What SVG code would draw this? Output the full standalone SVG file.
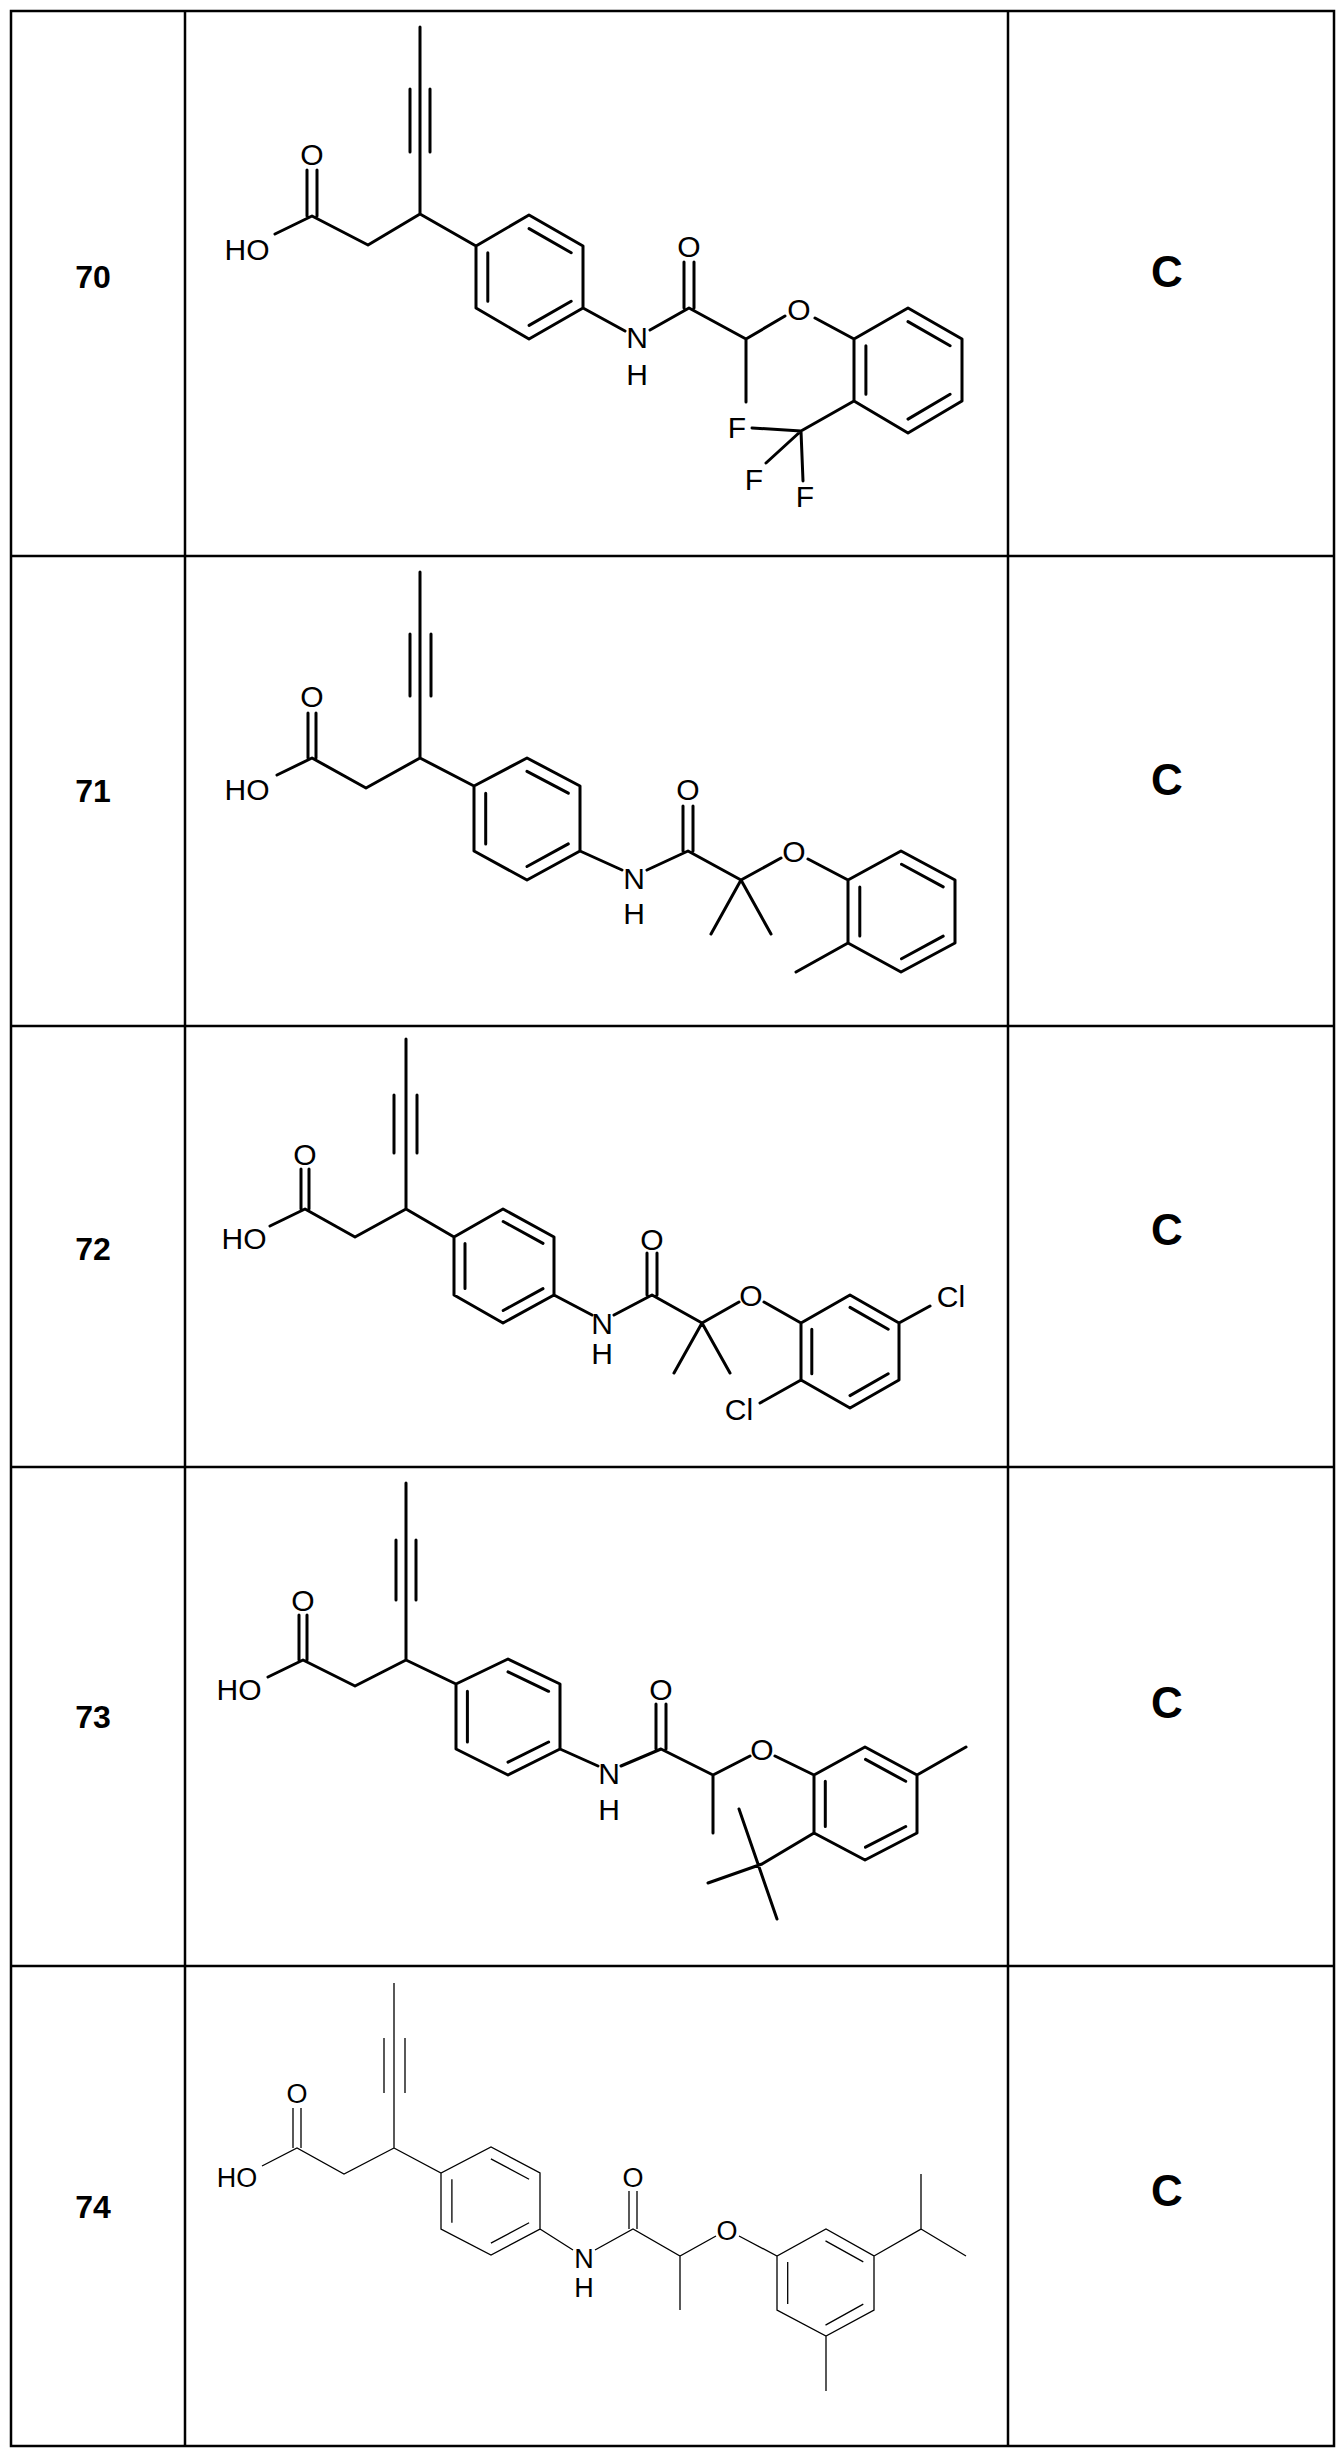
<svg xmlns="http://www.w3.org/2000/svg" width="1343" height="2454" viewBox="0 0 1343 2454">
<style>
.grid{stroke:#000;stroke-width:2.5;fill:none}
.b{stroke:#000;stroke-width:3;fill:none;stroke-linecap:round;stroke-linejoin:round}
.t{stroke:#000;stroke-width:1.3;fill:none}
.lbl{font-family:"Liberation Sans",Arial,sans-serif;font-weight:bold;text-anchor:middle}
.a{font-family:"Liberation Sans",Arial,sans-serif;font-size:30px;text-anchor:middle}
.a2{font-family:"Liberation Sans",Arial,sans-serif;font-size:27px;text-anchor:middle}
</style>
<rect width="1343" height="2454" fill="#fff"/>
<g id="table" class="grid">
<rect x="11" y="11" width="1323" height="2435"/>
<line x1="185" y1="11" x2="185" y2="2446"/>
<line x1="1008" y1="11" x2="1008" y2="2446"/>
<line x1="11" y1="556" x2="1334" y2="556"/>
<line x1="11" y1="1026" x2="1334" y2="1026"/>
<line x1="11" y1="1467" x2="1334" y2="1467"/>
<line x1="11" y1="1966" x2="1334" y2="1966"/>
</g>
<g id="labels">
<text class="lbl" x="93" y="288" font-size="32">70</text>
<text class="lbl" x="1167" y="287" font-size="44">C</text>
<text class="lbl" x="93" y="802" font-size="32">71</text>
<text class="lbl" x="1167" y="795" font-size="44">C</text>
<text class="lbl" x="93" y="1260" font-size="32">72</text>
<text class="lbl" x="1167" y="1245" font-size="44">C</text>
<text class="lbl" x="93" y="1728" font-size="32">73</text>
<text class="lbl" x="1167" y="1718" font-size="44">C</text>
<text class="lbl" x="93" y="2218" font-size="32">74</text>
<text class="lbl" x="1167" y="2206" font-size="44">C</text>
</g>

<g id="mol70">
<path class="b" d="M420,27V214M410,89V152M430,89V152M420,214L368,245L312,216L275,234M307,216V170M317,216V170M420,214L476,246L529,215L583,246L583,308L529,339L476,308L476,246M529.1,228.6L571.2,252.8M487.8,252.8V301.2M529.1,325.4L571.2,301.2M583,308L625,331M650,330L689,308L746,339L785,316M684,308V262M694,308V262M746,339V402M815,318L854,339L908,308L962,339L962,401L908,433L854,401L854,339M908,321.6L950.1,345.8M865.9,345.8V394.2M950.1,394.2L908,419.1M854,401L801,431L752,428M801,431L766,463M801,431L803,481"/>
<text class="a" x="247" y="260">HO</text>
<text class="a" x="312" y="165">O</text>
<text class="a" x="637" y="348">N</text>
<text class="a" x="637" y="385">H</text>
<text class="a" x="689" y="257">O</text>
<text class="a" x="799" y="320">O</text>
<text class="a" x="737" y="438">F</text>
<text class="a" x="754" y="490">F</text>
<text class="a" x="805" y="507">F</text>
</g>

<g id="mol71">
<path class="b" d="M420,572V758M410,634V696M431,634V696M420,758L366,788L312,758L277,775M308,758V713M316,758V713M420,758L474,786L527,758L580,786L580,851L527,880L474,851L474,786M527,771.3L568.3,793.2M485.7,793.2V843.9M527,866.5L568.3,843.9M580,851L622,870M647,870L688,851L741,880L781,858M683,851V806M693,851V806M741,880L711,934M741,880L771,934M808,859L848,880L901,851L955,880L955,943L901,972L848,943L848,880M901.5,864.3L943.2,886.9M859.8,886.9V936.1M943.2,936.1L901.5,958.7M848,943L796,972"/>
<text class="a" x="247" y="800">HO</text>
<text class="a" x="312" y="707">O</text>
<text class="a" x="634" y="889">N</text>
<text class="a" x="634" y="924">H</text>
<text class="a" x="688" y="800">O</text>
<text class="a" x="794" y="862">O</text>
</g>

<g id="mol72">
<path class="b" d="M406,1039V1209M394,1095V1153M417,1095V1153M406,1209L355,1237L305,1209L270,1226M301,1209V1169M309,1209V1169M406,1209L454,1237L503,1209L554,1237L554,1295L503,1323L454,1295L454,1237M503.2,1221.5L543,1243.4M465,1243.4V1288.6M503.2,1310.5L543,1288.6M554,1295L592,1315M614,1315L652,1295L702,1323L739,1302M647,1295V1253M657,1295V1253M702,1323L674,1373M702,1323L730,1373M764,1302L801,1323L850,1295L899,1323L899,1380L850,1408L801,1380L801,1323M850,1307.4L888.2,1329.3M811.8,1329.3V1373.7M888.2,1373.7L850,1395.6M899,1323L930,1306M801,1380L760,1403"/>
<text class="a" x="244" y="1249">HO</text>
<text class="a" x="305" y="1165">O</text>
<text class="a" x="602" y="1334">N</text>
<text class="a" x="602" y="1364">H</text>
<text class="a" x="652" y="1250">O</text>
<text class="a" x="751" y="1306">O</text>
<text class="a" x="951" y="1307">Cl</text>
<text class="a" x="739" y="1420">Cl</text>
</g>

<g id="mol73">
<path class="b" d="M406,1483V1660M396,1540V1600M416,1540V1600M406,1660L355,1686L303,1660L268,1677M299,1660V1615M307,1660V1615M406,1660L456,1684L508,1659L560,1684L560,1749L508,1775L456,1749L456,1684M508,1671.8L548.6,1691.3M467.4,1691.3V1742M508,1762.2L548.6,1742M560,1749L598,1766M621,1766L661,1749L713,1775L750,1756M656,1749V1704M666,1749V1704M713,1775V1833M775,1756L814,1775L865,1747L917,1775L917,1833L865,1860L814,1833L814,1775M865.5,1759.4L905.7,1781.3M825.3,1781.3V1826.5M905.7,1826.5L865.5,1847.2M917,1775L966,1747M814,1833L762,1864M739,1809L777,1919M762,1864L708,1883"/>
<text class="a" x="239" y="1700">HO</text>
<text class="a" x="303" y="1611">O</text>
<text class="a" x="609" y="1784">N</text>
<text class="a" x="609" y="1820">H</text>
<text class="a" x="661" y="1700">O</text>
<text class="a" x="762" y="1760">O</text>
</g>

<g id="mol74">
<path class="t" d="M394,1983V2148M384,2038V2093M405,2038V2093M394,2148L344,2174L297,2148L262,2166M293,2148V2108M301,2148V2108M394,2148L441,2173L491,2147L540,2173L540,2229L491,2255L441,2229L441,2173M490.9,2158.9L529.1,2179.2M451.9,2179.2V2222.8M490.9,2243.1L529.1,2222.8M540,2229L573,2250M595,2250L633,2229L680,2256L716,2236M629,2229V2191M637,2229V2191M680,2256V2310M739,2236L777,2256L826,2229L874,2256L874,2310L826,2336L777,2310L777,2256M825.5,2240.9L863.3,2261.9M787.7,2261.9V2304.1M863.3,2304.1L825.5,2325.1M826,2336V2391M874,2256L921,2229L921,2174M921,2229L966,2256"/>
<text class="a2" x="237" y="2187">HO</text>
<text class="a2" x="297" y="2103">O</text>
<text class="a2" x="584" y="2268">N</text>
<text class="a2" x="584" y="2297">H</text>
<text class="a2" x="633" y="2187">O</text>
<text class="a2" x="727" y="2240">O</text>
</g>
</svg>
